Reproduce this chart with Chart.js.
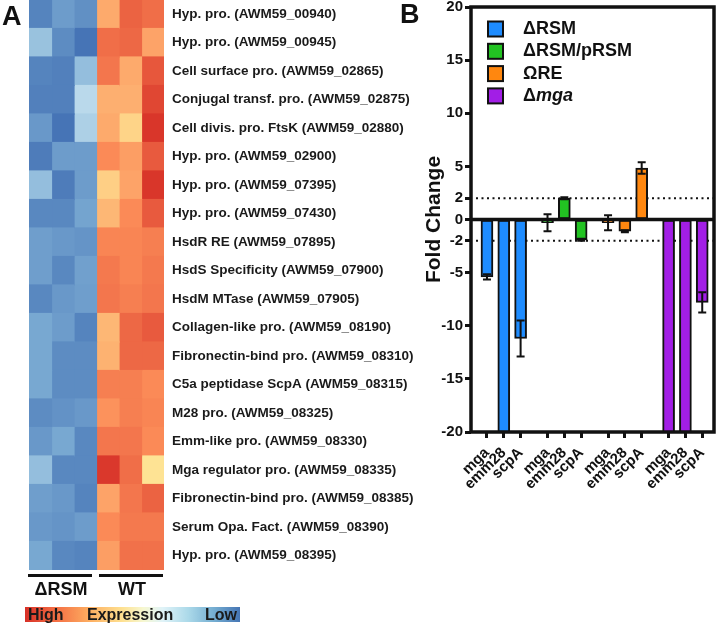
<!DOCTYPE html>
<html>
<head>
<meta charset="utf-8">
<script src="https://cdn.jsdelivr.net/npm/chart.js@4.4.0/dist/chart.umd.min.js"></script>
<style>
  body { margin:0; background:#fff; font-family:"Liberation Sans", Arial, Helvetica, sans-serif; }
  #fig { position:relative; width:721px; height:623px; overflow:hidden; }
  .abs { position:absolute; }
  .panel { font-weight:bold; font-size:27px; line-height:27px; color:#111; }
  .grp { font-weight:bold; font-size:18px; line-height:18px; color:#111; text-align:center; }
  .rule { background:#111; height:3px; }
  #cbar { left:25px; top:607px; width:215px; height:15px;
          background:linear-gradient(to right, #d73027 0%, #f46d43 14%, #fdae61 30%, #fee090 45%, #f6f7d0 55%, #e0f3f8 64%, #abd9e9 76%, #74add1 88%, #4575b4 100%); }
  .cb { font-weight:bold; font-size:16px; line-height:15px; color:#1a1a1a; top:0; }
</style>
</head>
<body>
<div id="fig">
  <canvas id="heat" class="abs" width="430" height="575" style="left:0;top:0;"></canvas>
  <canvas id="bars" class="abs" width="316" height="623" style="left:405px;top:0;"></canvas>

  <div class="abs panel" style="left:2px;top:3px;">A</div>
  <div class="abs panel" style="left:400px;top:1px;">B</div>

  <div class="abs rule" style="left:28px;top:574px;width:64px;"></div>
  <div class="abs rule" style="left:99px;top:574px;width:64px;"></div>
  <div class="abs grp" style="left:21px;top:580px;width:80px;">ΔRSM</div>
  <div class="abs grp" style="left:92px;top:580px;width:80px;">WT</div>

  <div id="cbar" class="abs">
    <span class="abs cb" style="left:3px;">High</span>
    <span class="abs cb" style="left:62px;">Expression</span>
    <span class="abs cb" style="left:180px;">Low</span>
  </div>
</div>

<script>
// ---- Panel A: heatmap (row z-scores, 3 ΔRSM + 3 WT replicates) ----
const geneRows = [
  'Hyp. pro. (AWM59_00940)', 'Hyp. pro. (AWM59_00945)', 'Cell surface pro. (AWM59_02865)',
  'Conjugal transf. pro. (AWM59_02875)', 'Cell divis. pro. FtsK (AWM59_02880)', 'Hyp. pro. (AWM59_02900)',
  'Hyp. pro. (AWM59_07395)', 'Hyp. pro. (AWM59_07430)', 'HsdR RE (AWM59_07895)',
  'HsdS Specificity (AWM59_07900)', 'HsdM MTase (AWM59_07905)', 'Collagen-like pro. (AWM59_08190)',
  'Fibronectin-bind pro. (AWM59_08310)', 'C5a peptidase ScpA (AWM59_08315)', 'M28 pro. (AWM59_08325)',
  'Emm-like pro. (AWM59_08330)', 'Mga regulator pro. (AWM59_08335)', 'Fibronectin-bind pro. (AWM59_08385)',
  'Serum Opa. Fact. (AWM59_08390)', 'Hyp. pro. (AWM59_08395)'
];
const rsm1 = [-0.9,-0.58,-0.9,-0.92,-0.8,-0.94,-0.6,-0.88,-0.77,-0.77,-0.88,-0.72,-0.72,-0.72,-0.86,-0.8,-0.6,-0.77,-0.8,-0.72];
const rsm2 = [-0.78,-0.86,-0.92,-0.92,-0.98,-0.78,-0.94,-0.88,-0.8,-0.88,-0.8,-0.78,-0.86,-0.86,-0.83,-0.72,-0.88,-0.8,-0.82,-0.88];
const rsm3 = [-0.84,-0.98,-0.6,-0.45,-0.5,-0.78,-0.78,-0.74,-0.82,-0.76,-0.77,-0.9,-0.86,-0.86,-0.8,-0.88,-0.88,-0.9,-0.78,-0.9];
const wt1 = [0.55,0.78,0.75,0.53,0.55,0.68,0.4,0.5,0.7,0.74,0.75,0.5,0.52,0.72,0.65,0.75,0.97,0.58,0.68,0.6];
const wt2 = [0.82,0.8,0.55,0.53,0.38,0.6,0.58,0.68,0.7,0.7,0.72,0.8,0.8,0.72,0.72,0.75,0.78,0.75,0.74,0.77];
const wt3 = [0.78,0.58,0.86,0.92,0.98,0.85,0.98,0.85,0.72,0.74,0.75,0.85,0.8,0.68,0.7,0.68,0.3,0.82,0.74,0.77];

// ---- Panel B: qRT-PCR fold change ----
const genes = ['mga', 'emm28', 'scpA'];
const strains = ['ΔRSM', 'ΔRSM/pRSM', 'ΩRE', 'Δmga'];
// values below -20 run off the axis floor
const foldRSM   = [-5.4, -25, -11.2];
const foldComp  = [-0.3, 2.0, -1.9];
const foldOmega = [-0.3, -1.1, 4.85];
const foldMga   = [-25, -25, -7.8];
const errRSM   = [0.25, 0, 1.7];
const errComp  = [0.8, 0.1, 0.1];
const errOmega = [0.7, 0.1, 0.55];
const errMga   = [0, 0, 0.95];
const yTicks = [20, 15, 10, 5, 2, 0, -2, -5, -10, -15, -20];
const cutoffs = [2, -2];

const FONT = '"Liberation Sans", Arial, Helvetica, sans-serif';
const strainColors = ['#1e8cff', '#22c322', '#ff870f', '#a21ee6'];
const GROUP_STEP = 3.6;

// diverging palette (blue = low, red = high)
const stops = [
  [-1.0, [66,112,180]], [-0.67, [130,178,214]], [-0.33, [216,238,246]],
  [0, [255,255,191]], [0.33, [254,224,144]], [0.67, [252,141,89]], [1.0, [215,48,39]]
];
function heatColor(v) {
  v = Math.max(-1, Math.min(1, v));
  for (let i = 1; i < stops.length; i++) {
    if (v <= stops[i][0]) {
      const [a, ca] = stops[i-1], [b, cb] = stops[i];
      const t = (v - a) / (b - a);
      const c = ca.map((x, k) => Math.round(x + (cb[k] - x) * t));
      return `rgb(${c[0]},${c[1]},${c[2]})`;
    }
  }
  return 'rgb(215,48,39)';
}

const columns = [rsm1, rsm2, rsm3, wt1, wt2, wt3];

new Chart(document.getElementById('heat'), {
  type: 'bar',
  data: {
    labels: geneRows,
    datasets: columns.map((col, i) => ({
      label: 'col' + i,
      data: col.map(() => 1),
      backgroundColor: col.map(heatColor),
      borderWidth: 0,
      inflateAmount: 0.6,
      barPercentage: 1,
      categoryPercentage: 1
    }))
  },
  options: {
    indexAxis: 'y',
    responsive: false,
    animation: false,
    layout: { padding: { left: 29, top: 0, bottom: 5, right: 0 } },
    plugins: { legend: { display: false }, tooltip: { enabled: false } },
    scales: {
      x: { stacked: true, min: 0, max: 6, display: false },
      y: {
        stacked: true,
        position: 'right',
        grid: { display: false, drawTicks: false },
        border: { display: false },
        ticks: { color: '#1a1a1a', padding: 8, font: { family: FONT, size: 13.5, weight: 'bold' } },
        afterFit: (s) => { s.width = 266; s.paddingTop = 0; s.paddingBottom = 0; }
      }
    }
  }
});

// ---- bar chart helpers ----
const folds = [foldRSM, foldComp, foldOmega, foldMga];
const errs = [errRSM, errComp, errOmega, errMga];
const xPos = (g, j) => g * GROUP_STEP + j;
const tickPos = [];
strains.forEach((s, g) => genes.forEach((n, j) => tickPos.push(xPos(g, j))));

const refLines = {
  id: 'refLines',
  beforeDatasetsDraw(chart) {
    const { ctx, chartArea: a, scales: { y } } = chart;
    ctx.save();
    ctx.strokeStyle = '#111';
    ctx.lineWidth = 2;
    ctx.setLineDash([2, 3.5]);
    cutoffs.forEach(v => {
      const py = y.getPixelForValue(v);
      ctx.beginPath(); ctx.moveTo(a.left + 5, py); ctx.lineTo(a.right, py); ctx.stroke();
    });
    ctx.restore();
  },
  afterDatasetsDraw(chart) {
    const { ctx, chartArea: a, scales: { y } } = chart;
    ctx.save();
    // error bars
    ctx.strokeStyle = '#111';
    ctx.lineWidth = 2;
    chart.data.datasets.forEach((ds, g) => {
      const meta = chart.getDatasetMeta(g);
      meta.data.forEach((bar, j) => {
        const e = errs[g][j];
        if (!e) return;
        const v = folds[g][j];
        const y1 = y.getPixelForValue(v + e), y2 = y.getPixelForValue(v - e);
        ctx.beginPath();
        ctx.moveTo(bar.x, y1); ctx.lineTo(bar.x, y2);
        ctx.moveTo(bar.x - 4, y1); ctx.lineTo(bar.x + 4, y1);
        ctx.moveTo(bar.x - 4, y2); ctx.lineTo(bar.x + 4, y2);
        ctx.stroke();
      });
    });
    // zero line and frame
    ctx.lineWidth = 3.5;
    const z = y.getPixelForValue(0);
    ctx.beginPath(); ctx.moveTo(a.left, z); ctx.lineTo(a.right, z); ctx.stroke();
    ctx.strokeRect(a.left, a.top, a.right - a.left, a.bottom - a.top);
    // legend inside plot
    ctx.textBaseline = 'middle';
    chart.data.datasets.forEach((ds, i) => {
      const cy = a.top + 22 + i * 22.3;
      ctx.fillStyle = ds.backgroundColor;
      ctx.fillRect(a.left + 17, cy - 7.5, 15, 15);
      ctx.lineWidth = 2;
      ctx.strokeRect(a.left + 17, cy - 7.5, 15, 15);
      ctx.fillStyle = '#111';
      const tx = a.left + 52;
      const lab = ds.label;
      if (/^Δ[a-z]+$/.test(lab)) {
        ctx.font = `bold 18px ${FONT}`;
        ctx.fillText('Δ', tx, cy);
        const w = ctx.measureText('Δ').width;
        ctx.font = `italic bold 18px ${FONT}`;
        ctx.fillText(lab.slice(1), tx + w, cy);
      } else {
        ctx.font = `bold 18px ${FONT}`;
        ctx.fillText(lab, tx, cy);
      }
    });
    ctx.restore();
  }
};

new Chart(document.getElementById('bars'), {
  type: 'bar',
  data: {
    datasets: strains.map((s, g) => ({
      label: s,
      data: folds[g].map((v, j) => ({ x: xPos(g, j), y: v })),
      backgroundColor: strainColors[g],
      borderColor: '#111',
      borderWidth: 2,
      borderSkipped: false,
      barThickness: 12,
      grouped: false
    }))
  },
  options: {
    responsive: false,
    animation: false,
    layout: { padding: { left: 0, top: 7, right: 7, bottom: 0 } },
    plugins: { legend: { display: false }, tooltip: { enabled: false } },
    scales: {
      x: {
        type: 'linear',
        min: -0.95,
        max: 13.5,
        offset: false,
        grid: { display: true, offset: false, drawOnChartArea: false, drawTicks: true, tickLength: 6, tickWidth: 3, tickColor: '#111' },
        border: { display: false },
        afterBuildTicks: (s) => { s.ticks = tickPos.map(v => ({ value: v })); },
        ticks: {
          autoSkip: false, minRotation: 45, maxRotation: 45, padding: 6,
          color: '#111', font: { family: FONT, size: 15, weight: 'bold' },
          callback: (v, i) => genes[i % genes.length]
        },
        afterFit: (s) => { s.height = 191; s.paddingLeft = 0; s.paddingRight = 0; }
      },
      y: {
        min: -20,
        max: 20,
        grid: { display: true, drawOnChartArea: false, drawTicks: true, tickLength: 6, tickWidth: 3, tickColor: '#111' },
        border: { display: false },
        afterBuildTicks: (s) => { s.ticks = yTicks.map(v => ({ value: v })); },
        ticks: { color: '#111', padding: 2, font: { family: FONT, size: 15, weight: 'bold', lineHeight: 1 } },
        title: { display: true, text: 'Fold Change', color: '#111', padding: { top: 17, bottom: 0 },
                 font: { family: FONT, size: 21, weight: 'bold' } },
        afterFit: (s) => { s.width = 66; s.paddingTop = 0; s.paddingBottom = 0; }
      }
    }
  },
  plugins: [refLines]
});
</script>
</body>
</html>
